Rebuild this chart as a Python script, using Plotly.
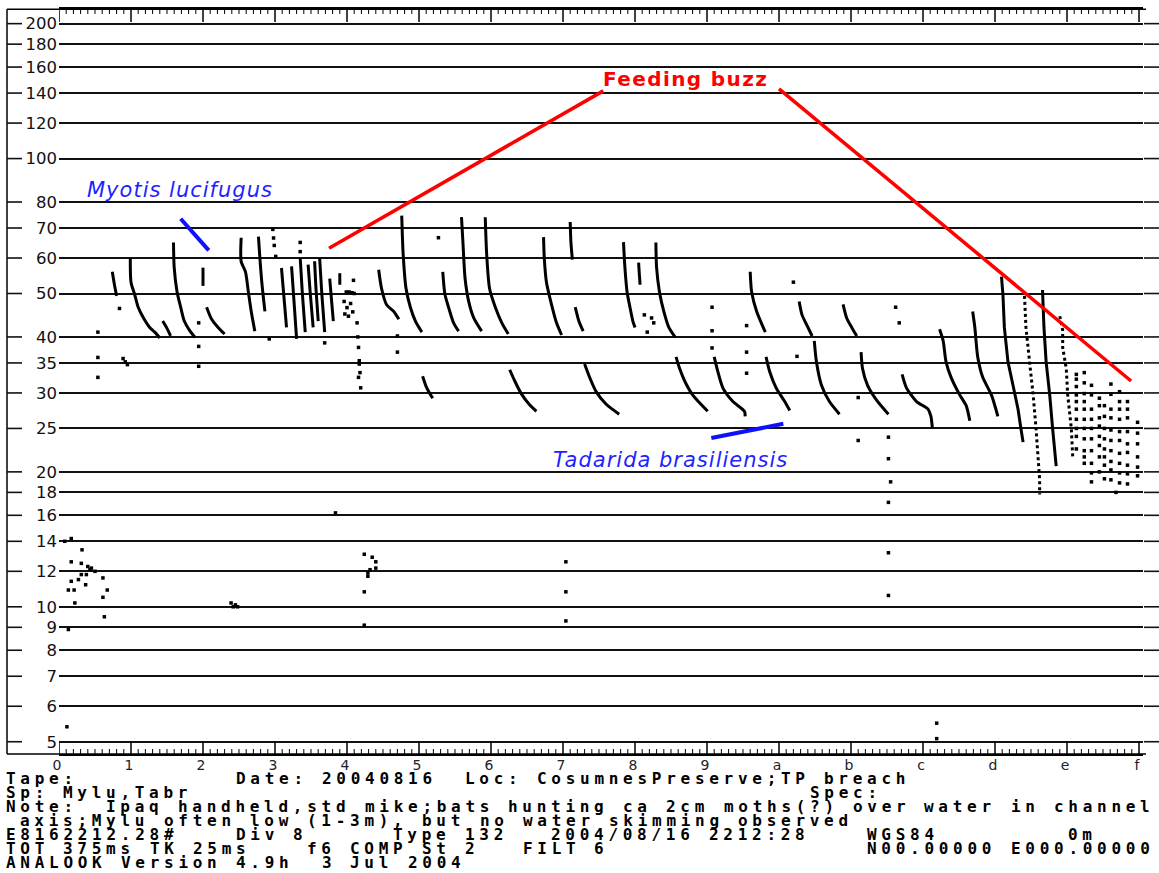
import math
import re
import plotly.graph_objects as go

# ---------------- axis data ----------------
y_ticks = [5, 6, 7, 8, 9, 10, 12, 14, 16, 18, 20, 25, 30, 35, 40, 50, 60, 70, 80, 100, 120, 140, 160, 180, 200]
x_ticks = list(range(16))
x_tick_labels = ['0', '1', '2', '3', '4', '5', '6', '7', '8', '9', 'a', 'b', 'c', 'd', 'e', 'f']
x_minor_step = 0.1

# ---------------- Myotis lucifugus calls (time in divisions, freq kHz) ----------------
myotis_time = [
    [0.74, 0.77, 0.80],
    [0.99, 1.00, 1.05, 1.10, 1.17, 1.26, 1.33, 1.40],
    [1.44, 1.50, 1.55],
    [1.59, 1.60, 1.64, 1.69, 1.74, 1.82, 1.89],
    [2.00, 2.00],
    [2.05, 2.12, 2.21, 2.30],
    [2.53, 2.53, 2.59, 2.63, 2.67, 2.72],
    [2.77, 2.79, 2.82, 2.86],
    [3.09, 3.12, 3.16],
    [3.23, 3.26, 3.30],
    [3.35, 3.38, 3.42],
    [3.46, 3.49, 3.53],
    [3.55, 3.57, 3.60],
    [3.62, 3.65, 3.69],
    [3.76, 3.81],
    [3.90, 3.90],
    [4.44, 4.48, 4.55, 4.65, 4.72],
    [4.76, 4.78, 4.82, 4.88, 4.95, 5.04],
    [5.33, 5.36, 5.41, 5.48, 5.55],
    [5.59, 5.61, 5.64, 5.69, 5.76, 5.87],
    [5.92, 5.94, 5.98, 6.06, 6.15, 6.24],
    [6.73, 6.74, 6.77, 6.84, 6.91, 6.98],
    [7.10, 7.11, 7.13],
    [7.17, 7.22, 7.28],
    [7.84, 7.86, 7.89, 7.93, 7.97, 8.00],
    [8.05, 8.07],
    [8.29, 8.30, 8.34, 8.40, 8.47, 8.56],
    [9.60, 9.62, 9.69, 9.81],
    [10.28, 10.32, 10.39, 10.46],
    [10.89, 10.94, 11.01, 11.08],
]
myotis_khz = [
    [55.9, 52.3, 49.4],
    [60.0, 53.0, 49.8, 46.6, 44.2, 42.0, 41.0, 39.8],
    [43.4, 41.8, 40.2],
    [65.0, 57.1, 50.4, 46.6, 43.4, 41.2, 39.9],
    [57.1, 52.0],
    [46.6, 43.8, 42.0, 40.6],
    [66.6, 58.9, 55.9, 50.4, 45.6, 41.2],
    [67.0, 60.0, 52.3, 45.6],
    [57.0, 50.0, 42.0],
    [57.5, 49.0, 39.6],
    [60.0, 50.0, 41.0],
    [58.0, 50.0, 42.0],
    [59.0, 51.0, 43.4],
    [60.0, 50.0, 41.0],
    [54.0, 43.4],
    [55.5, 52.3],
    [56.5, 51.3, 47.2, 45.6, 43.8],
    [74.6, 61.2, 51.3, 46.6, 43.4, 41.0],
    [55.9, 49.8, 46.6, 43.0, 41.2],
    [74.0, 65.1, 54.0, 48.0, 44.1, 41.2],
    [74.0, 61.2, 51.3, 46.6, 43.0, 40.6],
    [66.8, 60.0, 53.0, 47.3, 43.0, 40.4],
    [72.2, 65.1, 59.5],
    [46.6, 43.4, 41.2],
    [65.1, 57.1, 50.4, 46.6, 43.4, 42.0],
    [58.6, 52.3],
    [65.0, 57.1, 50.4, 45.6, 42.0, 39.9],
    [55.9, 50.4, 45.6, 41.0],
    [48.0, 44.8, 42.4, 40.2],
    [47.3, 44.1, 42.0, 40.2],
]

# ---------------- Tadarida brasiliensis calls ----------------
tadarida_time = [
    [5.05, 5.10, 5.15, 5.19],
    [6.26, 6.33, 6.42, 6.53, 6.63],
    [7.30, 7.37, 7.46, 7.60, 7.78],
    [8.57, 8.62, 8.69, 8.80, 9.01],
    [9.10, 9.15, 9.22, 9.36, 9.52, 9.53],
    [9.82, 9.87, 9.96, 10.08, 10.15],
    [10.49, 10.52, 10.59, 10.70, 10.84],
    [11.14, 11.16, 11.23, 11.35, 11.52],
    [11.71, 11.77, 11.91, 12.07, 12.11, 12.13],
    [12.23, 12.28, 12.32, 12.39, 12.51, 12.60, 12.65],
    [12.69, 12.72, 12.76, 12.83, 12.95, 13.04],
]
tadarida_khz = [
    [32.7, 31.0, 29.9, 29.2],
    [33.8, 31.9, 29.9, 28.3, 27.3],
    [34.8, 32.5, 30.2, 28.3, 26.9],
    [36.1, 34.0, 31.9, 29.7, 27.3],
    [36.1, 33.5, 30.8, 28.7, 27.3, 26.6],
    [36.1, 33.5, 30.8, 28.7, 27.4],
    [39.2, 35.2, 31.2, 28.7, 26.9],
    [37.0, 34.0, 31.2, 29.0, 26.9],
    [33.0, 30.8, 28.7, 27.6, 26.6, 25.0],
    [41.6, 39.2, 35.2, 32.5, 29.7, 28.1, 26.0],
    [45.6, 42.0, 36.1, 32.5, 29.7, 26.6],
]

# ---------------- feeding buzz pulses ----------------
buzz_time = [
    [13.09, 13.11, 13.13, 13.18, 13.25, 13.32, 13.36, 13.39],
    [13.41, 13.43, 13.48, 13.53, 13.57, 13.59, 13.60, 13.62, 13.62],
    [13.66, 13.68, 13.71, 13.76, 13.80, 13.85],
    [13.90, 13.94, 13.94, 13.99, 14.01, 14.06, 14.08],
]
buzz_khz = [
    [54.5, 49.8, 42.0, 35.2, 31.2, 27.6, 25.0, 23.3],
    [49.4, 42.0, 35.2, 29.7, 25.0, 22.3, 20.7, 19.2, 17.8],
    [50.9, 42.0, 35.2, 29.7, 25.0, 20.6],
    [44.5, 41.4, 37.9, 34.0, 29.7, 25.0, 21.5],
]
buzz_solid = [True, False, True, False]

# terminal buzz: columns of single points
buzz_col_time = [14.13, 14.24, 14.34, 14.45, 14.52, 14.61, 14.73, 14.84, 14.98]
buzz_col_khz = [
    [33.0, 32.2, 31.0, 29.7, 28.7, 27.6, 26.2, 25.0, 24.0, 22.5],
    [33.3, 31.6, 29.9, 28.7, 27.6, 26.2, 25.0, 23.7, 22.3, 21.6, 20.9],
    [31.2, 29.7, 27.6, 26.2, 25.0, 23.7, 22.3, 20.9, 19.9, 19.0],
    [29.2, 28.1, 26.4, 25.3, 24.0, 22.9, 21.6, 20.0],
    [28.1, 26.6, 25.0, 23.7, 22.5, 21.6, 20.7, 19.3],
    [31.4, 29.8, 27.6, 26.4, 24.8, 23.5, 22.3, 21.1, 20.2, 19.2],
    [30.2, 28.7, 27.6, 26.2, 24.6, 23.5, 22.0, 20.9, 19.9, 18.9],
    [28.7, 27.6, 26.4, 24.6, 23.1, 22.1, 20.7, 19.8, 18.8],
    [25.8, 24.4, 23.1, 21.6, 20.5, 19.6],
]

# ---------------- isolated points ----------------
dot_time = [0.54, 0.54, 0.54, 0.84, 0.89, 0.92, 0.95, 1.94, 1.94, 1.94, 2.92,
            2.97, 2.98, 2.99, 3.01, 3.35, 3.35, 3.69,
            3.99, 4.03, 4.07, 4.10, 3.96, 4.00, 4.05, 4.08, 3.97, 4.09, 4.02,
            4.14, 4.15, 4.16, 4.17, 4.17, 4.18, 4.16, 4.19,
            4.70, 4.70, 5.27, 8.13, 8.23, 8.26, 8.17, 9.07, 9.07, 9.07,
            9.55, 9.55, 9.55, 10.20, 10.25, 11.10, 11.10, 11.62, 11.67,
            11.52, 11.52, 11.55, 11.52, 11.52, 11.52, 12.19, 12.19,
            0.08, 0.17, 0.32, 0.17, 0.31, 0.40, 0.45, 0.50, 0.43, 0.38, 0.17, 0.27,
            0.31, 0.37, 0.13, 0.21, 0.61, 0.67, 0.61, 0.22, 0.63, 0.13, 0.11,
            2.39, 2.42, 2.45, 2.48, 3.84,
            4.24, 4.35, 4.40, 4.40, 4.32, 4.29, 4.29, 4.24, 4.24,
            7.04, 7.04, 7.04, 14.68]
dot_khz = [41.0, 36.0, 32.5, 46.3, 35.8, 35.2, 34.7, 43.0, 38.1, 34.4, 39.6,
           69.5, 66.5, 64.0, 60.5, 65.0, 62.0, 38.8,
           50.4, 50.4, 50.2, 50.0, 48.0, 46.5, 47.5, 45.5, 45.0, 53.5, 44.5,
           43.0, 40.0, 37.9, 35.4, 34.8, 33.3, 32.5, 30.8,
           40.2, 37.0, 66.6, 44.8, 44.1, 43.0, 41.0, 46.6, 41.3, 37.8,
           42.4, 37.0, 33.2, 53.0, 36.2, 29.3, 23.5, 46.6, 43.0,
           23.9, 21.4, 19.0, 17.1, 13.2, 10.6, 5.5, 5.08,
           14.0, 14.2, 13.4, 12.6, 12.5, 12.3, 12.2, 12.0, 12.1, 11.8, 11.4, 11.5,
           11.8, 11.2, 10.9, 10.9, 11.6, 10.9, 10.5, 10.2, 9.5, 8.9, 5.4,
           10.2, 10.0, 10.1, 10.0, 16.2,
           13.1, 12.9, 12.6, 12.2, 12.1, 11.9, 11.7, 10.8, 9.1,
           12.6, 10.8, 9.3, 18.0]

# ---------------- annotation pointers ----------------
buzz_ptr1_time, buzz_ptr1_khz = [3.75, 7.56], [63.1, 141.6]
buzz_ptr2_time, buzz_ptr2_khz = [10.0, 14.89], [143.1, 31.9]
mylu_ptr_time, mylu_ptr_khz = [1.69, 2.08], [73.4, 62.4]
tabr_ptr_time, tabr_ptr_khz = [9.06, 10.06], [23.8, 25.6]

# ---------------- footer text (monospaced columns) ----------------
footer_lines = [
    "Tape:           Date: 20040816  Loc: CosumnesPreserve;TP breach",
    "Sp: Mylu,Tabr                                           Spec:",
    "Note:  Ipaq handheld,std mike;bats hunting ca 2cm moths(?) over water in channel",
    " axis;Mylu often low (1-3m), but no water skimming observed",
    "E8162212.28#    Div 8      Type 132   2004/08/16 2212:28    WGS84         0m",
    "TOT 375ms TK 25ms    f6 COMP St 2   FILT 6                  N00.00000 E000.00000",
    "ANALOOK Version 4.9h  3 Jul 2004",
]

# ---------------- layout geometry ----------------
W, H = 1159, 873
L, R, T, B = 59, 16, 7, 119
PW, PH = W - L - R, H - T - B
PX_PER_DIV = 72.0
X_RANGE = [0, PW / PX_PER_DIV]
Y_RANGE = [0.6716, 2.3337]


def xp(px):
    return (px - L) / PW


def yp(py):
    return (H - B - py) / PH


def ylog_paper(v):
    return (math.log10(v) - Y_RANGE[0]) / (Y_RANGE[1] - Y_RANGE[0])


fig = go.Figure()

for t, f in zip(myotis_time, myotis_khz):
    fig.add_trace(go.Scatter(x=t, y=f, mode='lines', line=dict(color='black', width=3, shape='spline', smoothing=0.7),
                             hoverinfo='skip', showlegend=False))
for t, f in zip(tadarida_time, tadarida_khz):
    fig.add_trace(go.Scatter(x=t, y=f, mode='lines', line=dict(color='black', width=3, shape='spline', smoothing=0.7),
                             hoverinfo='skip', showlegend=False))
for t, f, solid in zip(buzz_time, buzz_khz, buzz_solid):
    fig.add_trace(go.Scatter(x=t, y=f, mode='lines',
                             line=dict(color='black', width=3, dash='solid' if solid else 'dot'),
                             hoverinfo='skip', showlegend=False))
col_x, col_y = [], []
for t, fs in zip(buzz_col_time, buzz_col_khz):
    col_x += [t] * len(fs)
    col_y += fs
fig.add_trace(go.Scatter(x=col_x, y=col_y, mode='markers',
                         marker=dict(symbol='square', size=3.5, color='black', line=dict(width=0)),
                         hoverinfo='skip', showlegend=False))
fig.add_trace(go.Scatter(x=dot_time, y=dot_khz, mode='markers',
                         marker=dict(symbol='square', size=3.5, color='black', line=dict(width=0)),
                         hoverinfo='skip', showlegend=False))

for tx, fy, col, wd in [(buzz_ptr1_time, buzz_ptr1_khz, '#ff0000', 3.5),
                        (buzz_ptr2_time, buzz_ptr2_khz, '#ff0000', 3.5),
                        (mylu_ptr_time, mylu_ptr_khz, '#1010ff', 4),
                        (tabr_ptr_time, tabr_ptr_khz, '#1010ff', 4)]:
    fig.add_trace(go.Scatter(x=tx, y=fy, mode='lines', line=dict(color=col, width=wd),
                             hoverinfo='skip', showlegend=False))

annotations = [
    dict(x=8.70, y=math.log10(150.7), xref='x', yref='y',
         text='<span style="letter-spacing:1.4px">Feeding buzz</span>', showarrow=False,
         font=dict(family='DejaVu Sans', size=20, color='#ff0000', weight='bold')),
    dict(x=1.68, y=math.log10(85.2), xref='x', yref='y',
         text='<span style="letter-spacing:1px">Myotis lucifugus</span>', showarrow=False,
         font=dict(family='DejaVu Sans', size=21, color='#1f1fff', style='italic')),
    dict(x=8.49, y=math.log10(21.3), xref='x', yref='y',
         text='<span style="letter-spacing:1px">Tadarida brasiliensis</span>', showarrow=False,
         font=dict(family='DejaVu Sans', size=21, color='#1f1fff', style='italic')),
]

# footer: one annotation per word, placed at its monospace column
FOOT_SIZE = 16
CHAR_W = 14.35
LETTER_SP = CHAR_W - 0.602 * FOOT_SIZE
FOOT_X0 = 5.0
FOOT_Y0 = 778.5
FOOT_DY = 14.1
for i, line in enumerate(footer_lines):
    for m in re.finditer(r'\S+', line):
        px = FOOT_X0 + m.start() * CHAR_W
        annotations.append(dict(
            x=xp(px), y=yp(FOOT_Y0 + i * FOOT_DY), xref='paper', yref='paper',
            xanchor='left', yanchor='middle', showarrow=False,
            text='<span style="letter-spacing:%.2fpx">%s</span>' % (LETTER_SP, m.group(0)),
            font=dict(family='DejaVu Sans Mono', size=FOOT_SIZE, color='black', weight='bold'),
            borderpad=0))

shapes = []
# outer frame (left, top, bottom)
shapes.append(dict(type='line', xref='paper', yref='paper', x0=xp(7), x1=xp(7), y0=yp(754), y1=yp(7.3),
                   line=dict(color='black', width=1.5)))
shapes.append(dict(type='line', xref='paper', yref='paper', x0=xp(7), x1=xp(1146), y0=yp(7.3), y1=yp(7.3),
                   line=dict(color='black', width=1.5)))
shapes.append(dict(type='line', xref='paper', yref='paper', x0=xp(7), x1=xp(1146), y0=yp(754), y1=yp(754),
                   line=dict(color='black', width=1.5)))
for v in y_ticks:
    yy = ylog_paper(v)
    shapes.append(dict(type='line', xref='paper', yref='paper', x0=xp(7), x1=xp(22), y0=yy, y1=yy,
                       line=dict(color='#111', width=1.6)))
    shapes.append(dict(type='line', xref='paper', yref='paper', x0=xp(1144), x1=xp(1159), y0=yy, y1=yy,
                       line=dict(color='#111', width=1.6)))

# x ticks (major + minor) on bottom and top edges, inside
MAJ, MIN = 13 / PH, 5 / PH
major_path, minor_path = [], []
n_minor = int(round(X_RANGE[1] / x_minor_step))
for k in range(n_minor + 1):
    xv = round(k * x_minor_step, 4)
    if xv > X_RANGE[1]:
        break
    if k % 10 == 0:
        major_path.append('M%.4f,0 L%.4f,%.5f M%.4f,1 L%.4f,%.5f' % (xv, xv, MAJ, xv, xv, 1 - MAJ))
    else:
        minor_path.append('M%.4f,0 L%.4f,%.5f M%.4f,1 L%.4f,%.5f' % (xv, xv, MIN, xv, xv, 1 - MIN))
shapes.append(dict(type='path', xref='x', yref='paper', path=' '.join(major_path),
                   line=dict(color='black', width=1.5)))
shapes.append(dict(type='path', xref='x', yref='paper', path=' '.join(minor_path),
                   line=dict(color='black', width=1)))

fig.update_layout(
    width=W, height=H,
    margin=dict(l=L, r=R, t=T, b=B, pad=0),
    paper_bgcolor='white', plot_bgcolor='white',
    showlegend=False,
    xaxis=dict(range=X_RANGE, tickmode='array', tickvals=x_ticks, ticktext=x_tick_labels,
               ticks='', showgrid=False, zeroline=False, showline=True, linecolor='black', linewidth=1.5,
               mirror=True,
               tickfont=dict(family='DejaVu Sans', size=14, color='#222'),
               ticklabelshift=-2, ticklabelstandoff=-3, fixedrange=True),
    yaxis=dict(type='log', range=Y_RANGE, tickmode='array', tickvals=y_ticks,
               ticktext=[str(v) for v in y_ticks], ticks='',
               showgrid=True, gridcolor='#111', gridwidth=1.6, zeroline=False, showline=False,
               tickfont=dict(family='DejaVu Sans', size=16.5, color='#111'),
               ticklabelstandoff=1, fixedrange=True),
    annotations=annotations,
    shapes=shapes,
)

fig.write_html("out.html", config={'displayModeBar': False},
               post_script="document.body.style.margin='0';document.body.style.overflow='hidden';")
